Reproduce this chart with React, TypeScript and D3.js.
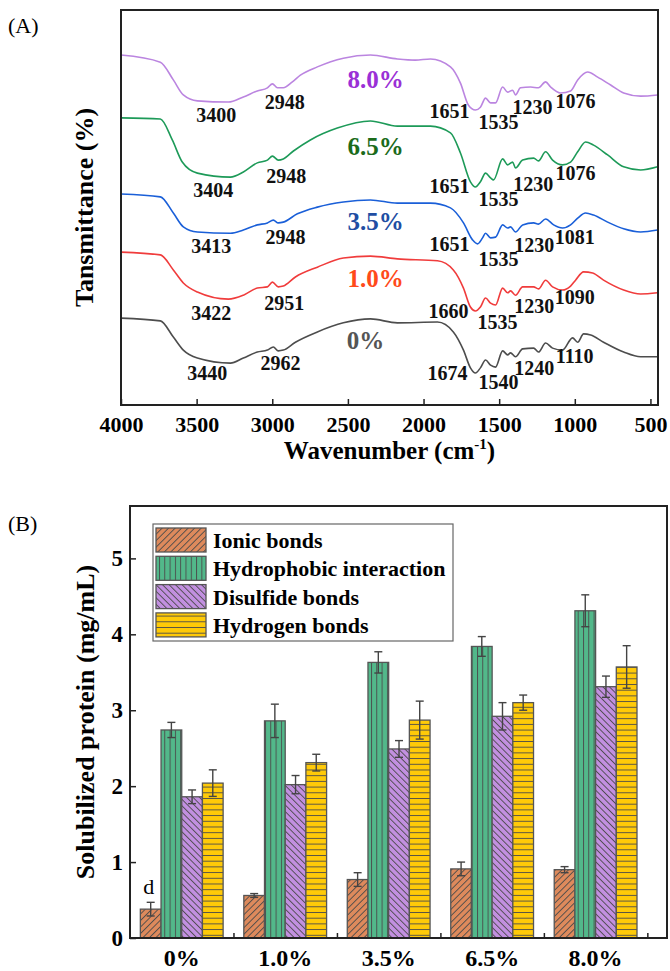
import React, { useEffect, useRef } from 'react';
import * as d3 from 'd3';

const FONT = "'Liberation Serif', 'Times New Roman', serif";

// ---- Panel A: FTIR spectra, [wavenumber (cm-1), transmittance (a.u., stacked)]
const spec0 = [
  [4000, 22.0], [3740, 21.3], [3654, 17.2], [3588, 13.9], [3495, 11.9], [3277, 10.6], [3191, 11.9],
  [3099, 13.4], [3032, 13.9], [2993, 14.7], [2960, 13.7], [2927, 13.9], [2847, 15.9], [2702, 18.5],
  [2530, 20.8], [2351, 21.8], [2173, 20.8], [1908, 21.0], [1803, 18.5], [1736, 13.9], [1690, 9.4],
  [1657, 8.1], [1624, 9.4], [1590, 11.4], [1557, 10.1], [1524, 9.6], [1477, 13.7], [1444, 12.7],
  [1425, 13.2], [1392, 12.2], [1345, 14.2], [1272, 14.4], [1240, 13.4], [1193, 15.7], [1147, 14.4],
  [1081, 13.9], [1015, 17.0], [981, 15.9], [942, 18.0], [895, 17.7], [810, 15.9], [677, 13.4],
  [565, 12.2], [453, 12.2],
];
const spec10 = [
  [4000, 38.7], [3740, 38.0], [3654, 34.2], [3588, 30.9], [3495, 28.6], [3290, 26.8], [3191, 27.8],
  [3099, 29.6], [3032, 29.9], [2999, 31.1], [2960, 29.9], [2927, 30.1], [2847, 32.4], [2702, 34.9],
  [2530, 37.2], [2351, 37.7], [2173, 37.0], [1908, 36.5], [1803, 34.2], [1736, 29.6], [1690, 24.8],
  [1657, 23.8], [1624, 24.8], [1590, 27.1], [1557, 25.8], [1524, 25.3], [1477, 29.6], [1444, 28.4],
  [1425, 28.9], [1392, 27.8], [1345, 29.9], [1272, 29.9], [1240, 29.4], [1193, 31.6], [1147, 29.9],
  [1081, 29.1], [1028, 30.1], [995, 31.6], [942, 33.7], [882, 33.4], [810, 31.6], [677, 29.1],
  [565, 28.1], [453, 28.4],
];
const spec35 = [
  [4000, 53.4], [3740, 52.7], [3654, 48.6], [3588, 45.1], [3495, 43.8], [3277, 43.5], [3191, 44.3],
  [3099, 45.6], [3032, 46.1], [2993, 46.8], [2960, 46.1], [2927, 46.3], [2834, 48.4], [2702, 50.1],
  [2530, 51.4], [2351, 51.9], [2173, 51.1], [1954, 51.1], [1822, 49.9], [1736, 46.1], [1676, 41.8],
  [1643, 40.8], [1610, 42.3], [1590, 43.5], [1557, 42.3], [1524, 42.5], [1477, 45.6], [1444, 44.8],
  [1425, 45.1], [1392, 43.8], [1345, 45.6], [1272, 46.1], [1240, 45.8], [1193, 47.1], [1140, 45.6],
  [1081, 44.8], [1028, 45.6], [981, 47.3], [929, 48.6], [876, 48.1], [783, 46.3], [677, 44.6],
  [565, 43.8], [453, 44.3],
];
const spec65 = [
  [4000, 72.7], [3740, 72.4], [3661, 67.1], [3595, 61.5], [3495, 58.7], [3277, 57.7], [3191, 59.0],
  [3099, 61.3], [3032, 62.0], [2999, 63.0], [2960, 62.0], [2927, 62.3], [2860, 64.3], [2748, 67.1],
  [2570, 70.1], [2351, 71.9], [2173, 70.6], [1954, 70.6], [1822, 68.9], [1756, 63.8], [1690, 56.5],
  [1657, 55.2], [1624, 56.5], [1590, 58.7], [1557, 57.5], [1537, 57.0], [1477, 62.3], [1444, 60.8],
  [1411, 61.5], [1392, 60.0], [1345, 62.0], [1272, 62.5], [1240, 61.8], [1193, 64.1], [1147, 62.0],
  [1081, 60.8], [1028, 61.5], [981, 64.1], [929, 66.6], [876, 65.8], [783, 63.3], [677, 60.3],
  [565, 59.5], [453, 60.3],
];
const spec80 = [
  [4000, 88.6], [3740, 86.8], [3654, 82.3], [3588, 78.5], [3495, 77.0], [3290, 76.7], [3191, 78.0],
  [3099, 79.5], [3032, 80.3], [2999, 81.3], [2966, 80.3], [2927, 80.3], [2867, 81.8], [2814, 83.5],
  [2702, 85.6], [2530, 87.8], [2351, 88.6], [2173, 87.6], [2054, 87.3], [1954, 87.6], [1822, 85.6],
  [1756, 81.5], [1703, 75.9], [1657, 74.7], [1624, 75.4], [1590, 77.7], [1557, 76.5], [1524, 76.5],
  [1477, 80.5], [1444, 79.2], [1411, 79.7], [1392, 78.5], [1359, 80.3], [1292, 80.5], [1240, 80.3],
  [1193, 81.8], [1160, 80.5], [1094, 79.0], [1028, 79.5], [981, 82.3], [915, 84.3], [849, 83.0],
  [763, 81.0], [677, 79.0], [565, 78.2], [453, 78.5],
];

// peak annotations: [text, wavenumber, transmittance]
const peaks0: [string, number, number][] = [
  ['3440', 3429, 6.3], ['2962', 2946, 8.9], ['1674', 1842, 6.3], ['1540', 1505, 4.1], ['1240', 1268, 7.6], ['1110', 1001, 10.6],
];
const peaks10: [string, number, number][] = [
  ['3422', 3403, 21.5], ['2951', 2920, 24.1], ['1660', 1835, 22.0], ['1535', 1511, 19.2], ['1230', 1268, 23.3], ['1090', 1001, 25.6],
];
const peaks35: [string, number, number][] = [
  ['3413', 3403, 38.5], ['2948', 2913, 40.8], ['1651', 1829, 39.0], ['1535', 1505, 35.2], ['1230', 1268, 38.7], ['1081', 1001, 40.8],
];
const peaks65: [string, number, number][] = [
  ['3404', 3390, 52.7], ['2948', 2907, 56.2], ['1651', 1829, 53.7], ['1535', 1505, 50.4], ['1230', 1274, 54.2], ['1076', 995, 57.0],
];
const peaks80: [string, number, number][] = [
  ['3400', 3370, 71.6], ['2948', 2917, 74.9], ['1651', 1829, 72.7], ['1535', 1505, 69.9], ['1230', 1280, 73.7], ['1076', 995, 75.2],
];

const seriesNames = ['0%', '1.0%', '3.5%', '6.5%', '8.0%'];
// series label anchor [wavenumber, transmittance]
const seriesLabelPos = [[2383, 14.2], [2317, 29.9], [2317, 44.3], [2317, 63.3], [2317, 80.3]];
const xTicksA = [4000, 3500, 3000, 2500, 2000, 1500, 1000, 500];

// ---- Panel B: solubilized protein (mg/mL)
const groups = ['0%', '1.0%', '3.5%', '6.5%', '8.0%'];
const bondNames = ['Ionic bonds', 'Hydrophobic interaction', 'Disulfide bonds', 'Hydrogen bonds'];
const ionic = [0.38, 0.56, 0.77, 0.91, 0.90];
const ionicErr = [0.09, 0.025, 0.09, 0.09, 0.04];
const hydrophobic = [2.74, 2.86, 3.63, 3.84, 4.31];
const hydrophobicErr = [0.10, 0.22, 0.14, 0.13, 0.21];
const disulfide = [1.86, 2.02, 2.49, 2.92, 3.31];
const disulfideErr = [0.09, 0.12, 0.11, 0.18, 0.14];
const hydrogen = [2.04, 2.31, 2.87, 3.10, 3.57];
const hydrogenErr = [0.175, 0.11, 0.25, 0.10, 0.28];
const yTicksB = [0, 1, 2, 3, 4, 5];

const App = () => {
  const ref = useRef<SVGSVGElement>(null);

  useEffect(() => {
    if (!ref.current) return;
    const svg = d3.select(ref.current);
    svg.selectAll('*').remove();
    const defs = svg.append('defs');

    // ============ Panel A ============
    const A = { left: 121, right: 658, top: 10, bottom: 405 };
    const xA = d3.scaleLinear().domain([4000, 450]).range([A.left, A.right]);
    const yA = d3.scaleLinear().domain([0, 100]).range([A.bottom, A.top]);

    const specs = [spec0, spec10, spec35, spec65, spec80];
    const peakSets = [peaks0, peaks10, peaks35, peaks65, peaks80];
    const lineColors = ['#4d4d4d', '#f03c3c', '#1a5fd8', '#1d9a58', '#bb85e0'];
    const textColors = ['#555555', '#ff4a1a', '#1f4ea3', '#1b6b1b', '#9a30d6'];

    const gA = svg.append('g');
    const line = d3.line<number[]>()
      .x(d => xA(d[0]))
      .y(d => yA(d[1]))
      .curve(d3.curveMonotoneX);

    specs.forEach((s, i) => {
      gA.append('path')
        .attr('d', line(s))
        .attr('fill', 'none')
        .attr('stroke', lineColors[i])
        .attr('stroke-width', 1.6);
      gA.append('text')
        .attr('x', xA(seriesLabelPos[i][0]))
        .attr('y', yA(seriesLabelPos[i][1]))
        .attr('text-anchor', 'middle')
        .attr('font-family', FONT)
        .attr('font-weight', 'bold')
        .attr('font-size', 25)
        .attr('fill', textColors[i])
        .text(seriesNames[i]);
      peakSets[i].forEach(p => {
        gA.append('text')
          .attr('x', xA(p[1]))
          .attr('y', yA(p[2]))
          .attr('text-anchor', 'middle')
          .attr('font-family', FONT)
          .attr('font-weight', 'bold')
          .attr('font-size', 20)
          .attr('fill', '#111')
          .text(p[0]);
      });
    });

    const axA = gA.append('g')
      .attr('transform', `translate(0,${A.bottom})`)
      .call(d3.axisBottom(xA).tickValues(xTicksA).tickSize(-6).tickPadding(11).tickFormat(d3.format('d')));
    axA.select('.domain').remove();
    axA.selectAll('line').attr('stroke', '#222').attr('stroke-width', 1.5);
    axA.selectAll('text')
      .attr('font-family', FONT).attr('font-size', 22).attr('font-weight', 'bold').attr('fill', '#000');

    gA.append('rect')
      .attr('x', A.left).attr('y', A.top)
      .attr('width', A.right - A.left).attr('height', A.bottom - A.top)
      .attr('fill', 'none').attr('stroke', '#222').attr('stroke-width', 2);

    const xl = gA.append('text')
      .attr('x', (A.left + A.right) / 2).attr('y', 459)
      .attr('text-anchor', 'middle')
      .attr('font-family', FONT).attr('font-weight', 'bold').attr('font-size', 25);
    xl.append('tspan').text('Wavenumber (cm');
    xl.append('tspan').attr('font-size', 15).attr('dy', -10).text('-1');
    xl.append('tspan').attr('dy', 10).text(')');

    gA.append('text')
      .attr('transform', `translate(93,${(A.top + A.bottom) / 2}) rotate(-90)`)
      .attr('text-anchor', 'middle')
      .attr('font-family', FONT).attr('font-weight', 'bold').attr('font-size', 26)
      .text('Tansmittance (%)');

    svg.append('text')
      .attr('x', 8).attr('y', 33)
      .attr('font-family', FONT).attr('font-size', 22)
      .text('(A)');

    // ============ Panel B ============
    const B = { left: 130, right: 667, top: 506, bottom: 938 };
    const xB = d3.scaleLinear().domain([0.5, 5.69]).range([B.left, B.right]);
    const yB = d3.scaleLinear().domain([0, 5.69]).range([B.bottom, B.top]);

    const fills = ['#de8a5c', '#52b88a', '#c290e0', '#ffca08'];
    const mkPattern = (id: string, fill: string, size: number, rotate: number) => {
      const p = defs.append('pattern')
        .attr('id', id)
        .attr('patternUnits', 'userSpaceOnUse')
        .attr('width', size).attr('height', size)
        .attr('patternTransform', `rotate(${rotate})`);
      p.append('rect').attr('width', size).attr('height', size).attr('fill', fill);
      p.append('line')
        .attr('x1', 0.5).attr('y1', 0).attr('x2', 0.5).attr('y2', size)
        .attr('stroke', '#4a4a4a').attr('stroke-width', 0.9);
    };
    mkPattern('pat0', fills[0], 4.6, 45);
    mkPattern('pat1', fills[1], 5.3, 0);
    mkPattern('pat2', fills[2], 4.6, -45);
    mkPattern('pat3', fills[3], 5.7, 90);

    const vals = [ionic, hydrophobic, disulfide, hydrogen];
    const errs = [ionicErr, hydrophobicErr, disulfideErr, hydrogenErr];
    const gB = svg.append('g');
    const barW = xB(0.2) - xB(0);

    groups.forEach((_, gi) => {
      vals.forEach((v, si) => {
        const x0 = xB(gi + 1 - 0.4 + 0.2 * si);
        gB.append('rect')
          .attr('x', x0).attr('y', yB(v[gi]))
          .attr('width', barW).attr('height', yB(0) - yB(v[gi]))
          .attr('fill', `url(#pat${si})`)
          .attr('stroke', '#555').attr('stroke-width', 1.3);
      });
    });
    groups.forEach((_, gi) => {
      vals.forEach((v, si) => {
        const cx = xB(gi + 1 - 0.3 + 0.2 * si);
        const hi = yB(v[gi] + errs[si][gi]);
        const lo = yB(v[gi] - errs[si][gi]);
        const eg = gB.append('g').attr('stroke', '#444').attr('stroke-width', 1.4);
        eg.append('line').attr('x1', cx).attr('x2', cx).attr('y1', hi).attr('y2', lo);
        eg.append('line').attr('x1', cx - 4).attr('x2', cx + 4).attr('y1', hi).attr('y2', hi);
        eg.append('line').attr('x1', cx - 4).attr('x2', cx + 4).attr('y1', lo).attr('y2', lo);
      });
    });

    gB.append('text')
      .attr('x', xB(1 - 0.3) - 2).attr('y', yB(ionic[0] + ionicErr[0]) - 8)
      .attr('text-anchor', 'middle')
      .attr('font-family', FONT).attr('font-size', 22)
      .text('d');

    const axBx = gB.append('g')
      .attr('transform', `translate(0,${B.bottom})`)
      .call(d3.axisBottom(xB).tickValues([1.5, 2.5, 3.5, 4.5, 5.5]).tickSize(-5).tickFormat(() => ''));
    axBx.select('.domain').remove();
    axBx.selectAll('line').attr('stroke', '#222').attr('stroke-width', 1.5);

    const axBy = gB.append('g')
      .attr('transform', `translate(${B.left},0)`)
      .call(d3.axisLeft(yB).tickValues(yTicksB).tickSize(-6).tickPadding(7).tickFormat(d3.format('d')));
    axBy.select('.domain').remove();
    axBy.selectAll('line').attr('stroke', '#222').attr('stroke-width', 1.5);
    axBy.selectAll('text')
      .attr('font-family', FONT).attr('font-size', 23).attr('font-weight', 'bold').attr('fill', '#000');

    groups.forEach((g, gi) => {
      gB.append('text')
        .attr('x', xB(gi + 1)).attr('y', 966)
        .attr('text-anchor', 'middle')
        .attr('font-family', FONT).attr('font-weight', 'bold').attr('font-size', 24)
        .text(g);
    });

    gB.append('rect')
      .attr('x', B.left).attr('y', B.top)
      .attr('width', B.right - B.left).attr('height', B.bottom - B.top)
      .attr('fill', 'none').attr('stroke', '#222').attr('stroke-width', 2);

    gB.append('text')
      .attr('transform', `translate(94,${(B.top + B.bottom) / 2}) rotate(-90)`)
      .attr('text-anchor', 'middle')
      .attr('font-family', FONT).attr('font-weight', 'bold').attr('font-size', 26)
      .text('Solubilized protein (mg/mL)');

    // legend
    const lg = gB.append('g');
    lg.append('rect')
      .attr('x', 153).attr('y', 524).attr('width', 300).attr('height', 117)
      .attr('fill', '#fff').attr('stroke', '#666').attr('stroke-width', 1.2);
    bondNames.forEach((n, i) => {
      const yy = 528 + i * 28.3;
      lg.append('rect')
        .attr('x', 156).attr('y', yy).attr('width', 50).attr('height', 24)
        .attr('fill', `url(#pat${i})`).attr('stroke', '#555').attr('stroke-width', 1.3);
      lg.append('text')
        .attr('x', 213).attr('y', yy + 20)
        .attr('font-family', FONT).attr('font-weight', 'bold').attr('font-size', 22)
        .text(n);
    });

    svg.append('text')
      .attr('x', 8).attr('y', 531)
      .attr('font-family', FONT).attr('font-size', 22)
      .text('(B)');
  }, []);

  return (
    <svg
      ref={ref}
      width={670}
      height={971}
      style={{ position: 'absolute', left: 0, top: 0, background: '#fff' }}
    />
  );
};

export default App;
